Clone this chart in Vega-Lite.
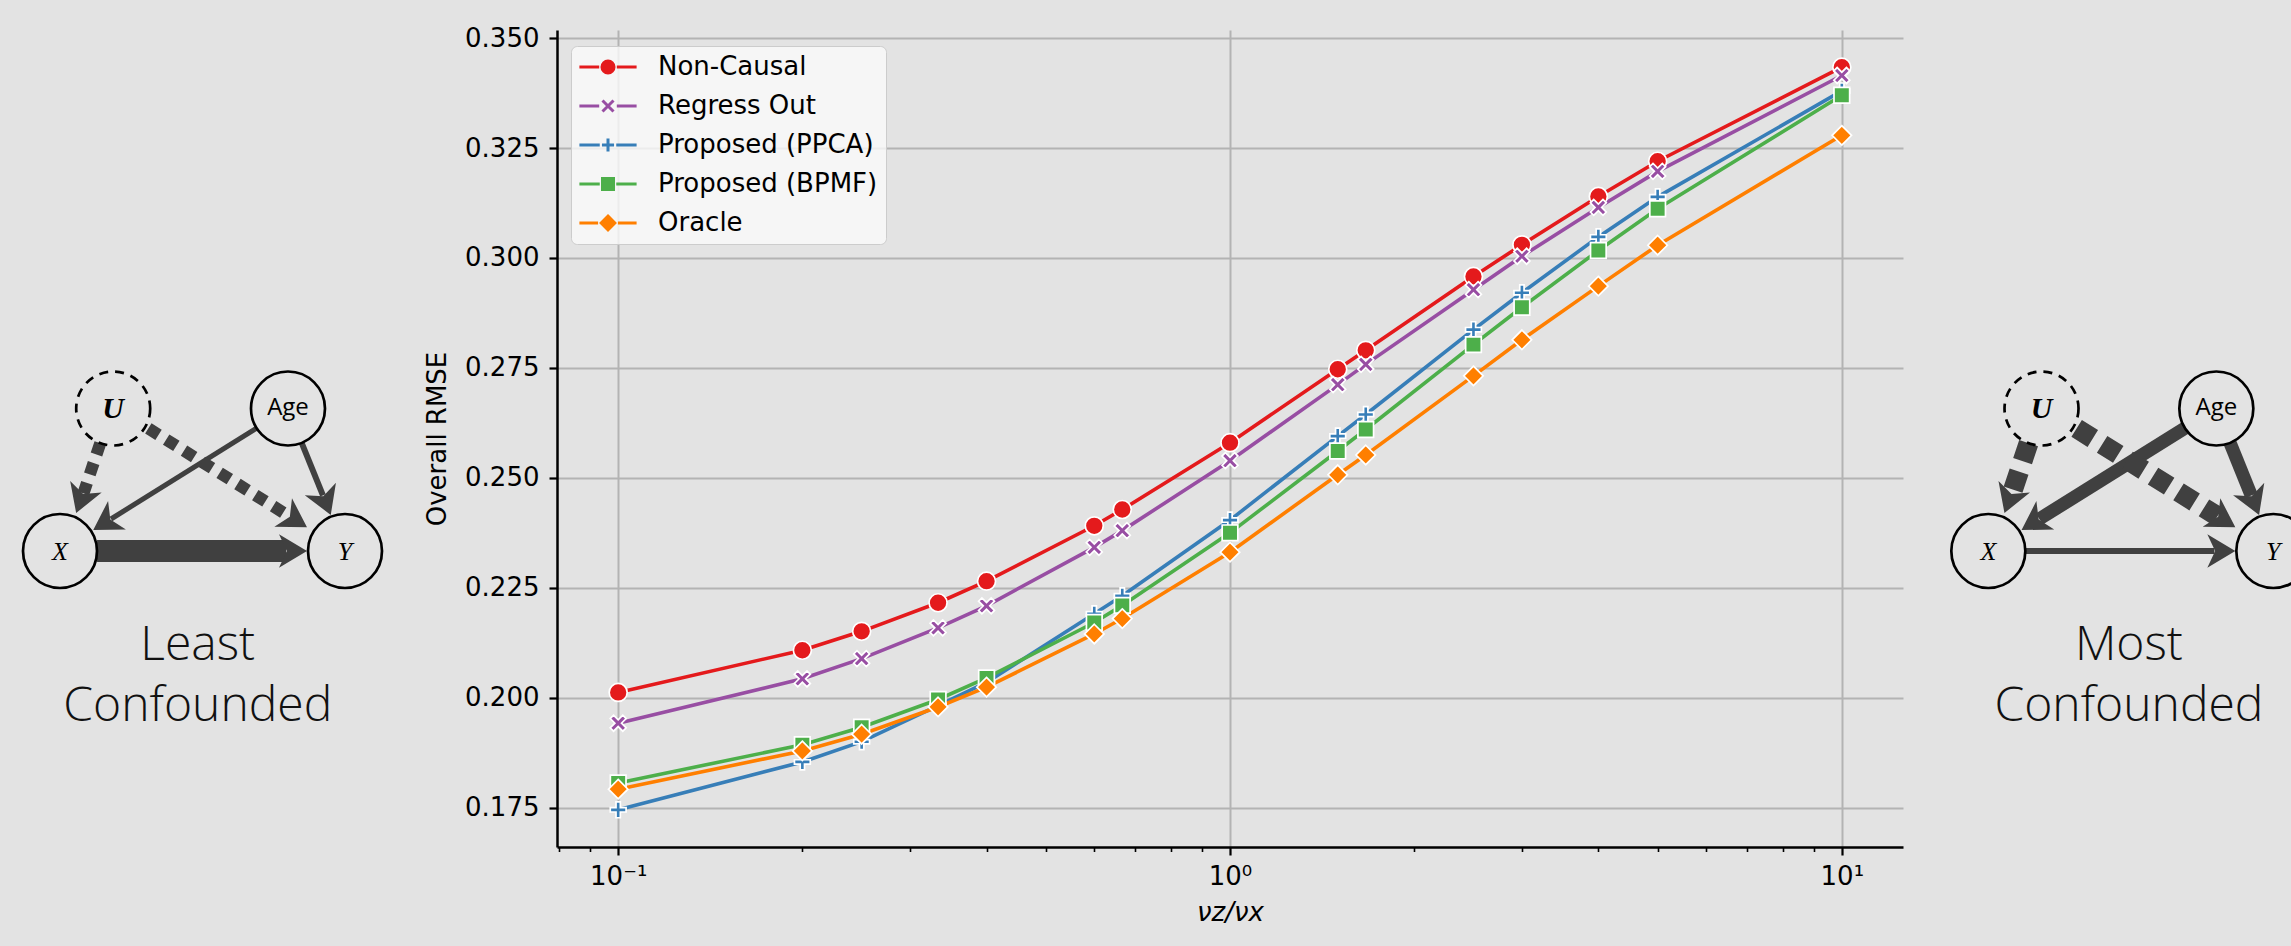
{
  "$schema": "https://vega.github.io/schema/vega-lite/v6.json",
  "background": "#e3e3e3",
  "padding": {"left": 0, "top": 25, "right": 0, "bottom": 40},
  "bounds": "flush",
  "spacing": 0,
  "config": {
    "view": {"stroke": null},
    "axis": {"labelFont": "DejaVu Sans", "titleFont": "DejaVu Sans", "labelFontSize": 26, "titleFontSize": 26, "titleFontWeight": "normal", "labelColor": "black", "titleColor": "black", "domainColor": "black", "tickColor": "black", "gridColor": "#b3b3b3"}
  },
  "datasets": {
    "main": [
      {"Method":"Non-Causal","ratio":0.1,"RMSE":0.2012},{"Method":"Non-Causal","ratio":0.2,"RMSE":0.2108},{"Method":"Non-Causal","ratio":0.25,"RMSE":0.2151},{"Method":"Non-Causal","ratio":0.3333,"RMSE":0.2216},{"Method":"Non-Causal","ratio":0.4,"RMSE":0.2265},{"Method":"Non-Causal","ratio":0.6,"RMSE":0.2391},{"Method":"Non-Causal","ratio":0.6667,"RMSE":0.2428},{"Method":"Non-Causal","ratio":1,"RMSE":0.258},{"Method":"Non-Causal","ratio":1.5,"RMSE":0.2747},{"Method":"Non-Causal","ratio":1.6667,"RMSE":0.279},{"Method":"Non-Causal","ratio":2.5,"RMSE":0.2958},{"Method":"Non-Causal","ratio":3,"RMSE":0.303},{"Method":"Non-Causal","ratio":4,"RMSE":0.314},{"Method":"Non-Causal","ratio":5,"RMSE":0.322},{"Method":"Non-Causal","ratio":10,"RMSE":0.3434},
      {"Method":"Regress Out","ratio":0.1,"RMSE":0.1942},{"Method":"Regress Out","ratio":0.2,"RMSE":0.2043},{"Method":"Regress Out","ratio":0.25,"RMSE":0.2089},{"Method":"Regress Out","ratio":0.3333,"RMSE":0.2159},{"Method":"Regress Out","ratio":0.4,"RMSE":0.2209},{"Method":"Regress Out","ratio":0.6,"RMSE":0.2342},{"Method":"Regress Out","ratio":0.6667,"RMSE":0.238},{"Method":"Regress Out","ratio":1,"RMSE":0.2539},{"Method":"Regress Out","ratio":1.5,"RMSE":0.2712},{"Method":"Regress Out","ratio":1.6667,"RMSE":0.2758},{"Method":"Regress Out","ratio":2.5,"RMSE":0.2928},{"Method":"Regress Out","ratio":3,"RMSE":0.3004},{"Method":"Regress Out","ratio":4,"RMSE":0.3115},{"Method":"Regress Out","ratio":5,"RMSE":0.3197},{"Method":"Regress Out","ratio":10,"RMSE":0.3415},
      {"Method":"Proposed (PPCA)","ratio":0.1,"RMSE":0.1745},{"Method":"Proposed (PPCA)","ratio":0.2,"RMSE":0.1854},{"Method":"Proposed (PPCA)","ratio":0.25,"RMSE":0.19},{"Method":"Proposed (PPCA)","ratio":0.3333,"RMSE":0.1982},{"Method":"Proposed (PPCA)","ratio":0.4,"RMSE":0.2035},{"Method":"Proposed (PPCA)","ratio":0.6,"RMSE":0.2191},{"Method":"Proposed (PPCA)","ratio":0.6667,"RMSE":0.2232},{"Method":"Proposed (PPCA)","ratio":1,"RMSE":0.2404},{"Method":"Proposed (PPCA)","ratio":1.5,"RMSE":0.2595},{"Method":"Proposed (PPCA)","ratio":1.6667,"RMSE":0.2644},{"Method":"Proposed (PPCA)","ratio":2.5,"RMSE":0.2837},{"Method":"Proposed (PPCA)","ratio":3,"RMSE":0.2921},{"Method":"Proposed (PPCA)","ratio":4,"RMSE":0.3048},{"Method":"Proposed (PPCA)","ratio":5,"RMSE":0.3139},{"Method":"Proposed (PPCA)","ratio":10,"RMSE":0.338},
      {"Method":"Proposed (BPMF)","ratio":0.1,"RMSE":0.1806},{"Method":"Proposed (BPMF)","ratio":0.2,"RMSE":0.1893},{"Method":"Proposed (BPMF)","ratio":0.25,"RMSE":0.1933},{"Method":"Proposed (BPMF)","ratio":0.3333,"RMSE":0.1996},{"Method":"Proposed (BPMF)","ratio":0.4,"RMSE":0.2045},{"Method":"Proposed (BPMF)","ratio":0.6,"RMSE":0.2171},{"Method":"Proposed (BPMF)","ratio":0.6667,"RMSE":0.221},{"Method":"Proposed (BPMF)","ratio":1,"RMSE":0.2375},{"Method":"Proposed (BPMF)","ratio":1.5,"RMSE":0.2561},{"Method":"Proposed (BPMF)","ratio":1.6667,"RMSE":0.261},{"Method":"Proposed (BPMF)","ratio":2.5,"RMSE":0.2803},{"Method":"Proposed (BPMF)","ratio":3,"RMSE":0.2888},{"Method":"Proposed (BPMF)","ratio":4,"RMSE":0.3017},{"Method":"Proposed (BPMF)","ratio":5,"RMSE":0.3112},{"Method":"Proposed (BPMF)","ratio":10,"RMSE":0.337},
      {"Method":"Oracle","ratio":0.1,"RMSE":0.1792},{"Method":"Oracle","ratio":0.2,"RMSE":0.1879},{"Method":"Oracle","ratio":0.25,"RMSE":0.1917},{"Method":"Oracle","ratio":0.3333,"RMSE":0.1979},{"Method":"Oracle","ratio":0.4,"RMSE":0.2024},{"Method":"Oracle","ratio":0.6,"RMSE":0.2145},{"Method":"Oracle","ratio":0.6667,"RMSE":0.218},{"Method":"Oracle","ratio":1,"RMSE":0.2331},{"Method":"Oracle","ratio":1.5,"RMSE":0.2507},{"Method":"Oracle","ratio":1.6667,"RMSE":0.2552},{"Method":"Oracle","ratio":2.5,"RMSE":0.2732},{"Method":"Oracle","ratio":3,"RMSE":0.2814},{"Method":"Oracle","ratio":4,"RMSE":0.2936},{"Method":"Oracle","ratio":5,"RMSE":0.3029},{"Method":"Oracle","ratio":10,"RMSE":0.3279}
    ],
    "edges": [
      {"panel":"least","edge":"X→Y","kind":"observed","strength":1.0,"x":0.39,"y":0,"ex":2.38,"ey":0,"tx":2.6,"ty":0},
      {"panel":"least","edge":"Age→X","kind":"observed","strength":0.23,"x":2.07,"y":1.294,"ex":0.537,"ey":0.337,"tx":0.35,"ty":0.22},
      {"panel":"least","edge":"Age→Y","kind":"observed","strength":0.27,"x":2.544,"y":1.139,"ex":2.768,"ey":0.585,"tx":2.85,"ty":0.38},
      {"panel":"least","edge":"U→X","kind":"latent","strength":0.55,"x":0.424,"y":1.136,"ex":0.247,"ey":0.607,"tx":0.17,"ty":0.4},
      {"panel":"least","edge":"U→Y","kind":"latent","strength":0.55,"x":0.93,"y":1.29,"ex":2.412,"ey":0.366,"tx":2.6,"ty":0.25},
      {"panel":"most","edge":"X→Y","kind":"observed","strength":0.27,"x":0.39,"y":0,"ex":2.38,"ey":0,"tx":2.6,"ty":0},
      {"panel":"most","edge":"Age→X","kind":"observed","strength":0.6,"x":2.07,"y":1.294,"ex":0.537,"ey":0.337,"tx":0.35,"ty":0.22},
      {"panel":"most","edge":"Age→Y","kind":"observed","strength":0.6,"x":2.544,"y":1.139,"ex":2.768,"ey":0.585,"tx":2.85,"ty":0.38},
      {"panel":"most","edge":"U→X","kind":"latent","strength":0.9,"x":0.424,"y":1.136,"ex":0.247,"ey":0.607,"tx":0.17,"ty":0.4},
      {"panel":"most","edge":"U→Y","kind":"latent","strength":0.9,"x":0.93,"y":1.29,"ex":2.412,"ey":0.366,"tx":2.6,"ty":0.25}
    ],
    "nodes": [
      {"node":"U","kind":"latent","x":0.56,"y":1.5},
      {"node":"Age","kind":"covariate","x":2.4,"y":1.5},
      {"node":"X","kind":"variable","x":0,"y":0},
      {"node":"Y","kind":"variable","x":3,"y":0}
    ],
    "captions": [
      {"panel":"least","text":"Least","x":1.45,"y":-1.15},
      {"panel":"least","text":"Confounded","x":1.45,"y":-1.79},
      {"panel":"most","text":"Most","x":1.48,"y":-1.15},
      {"panel":"most","text":"Confounded","x":1.48,"y":-1.79}
    ]
  },
  "hconcat": [
    {
      "width": 557, "height": 817,
      "layer": [
        {"data": {"name": "edges"}, "transform": [{"filter": "datum.panel == 'least' && datum.kind == 'observed'"}],
         "mark": {"type": "rule", "color": "#404040", "strokeCap": "butt"},
         "encoding": {
           "x": {"field": "x", "type": "quantitative", "scale": {"domain": [-0.6316, 5.2316], "nice": false, "zero": false}, "axis": null},
           "y": {"field": "y", "type": "quantitative", "scale": {"domain": [-3.1158, 5.4842], "nice": false, "zero": false}, "axis": null},
           "x2": {"field": "ex"}, "y2": {"field": "ey"},
           "strokeWidth": {"field": "strength", "type": "quantitative", "scale": {"domain": [0, 1], "range": [0, 22]}, "legend": null}}},
        {"data": {"name": "edges"}, "transform": [{"filter": "datum.panel == 'least' && datum.kind == 'latent'"}],
         "mark": {"type": "rule", "color": "#404040", "strokeCap": "butt", "strokeDash": [12, 9]},
         "encoding": {
           "x": {"field": "x", "type": "quantitative", "scale": {"domain": [-0.6316, 5.2316], "nice": false, "zero": false}, "axis": null},
           "y": {"field": "y", "type": "quantitative", "scale": {"domain": [-3.1158, 5.4842], "nice": false, "zero": false}, "axis": null},
           "x2": {"field": "ex"}, "y2": {"field": "ey"},
           "strokeWidth": {"field": "strength", "type": "quantitative", "scale": {"domain": [0, 1], "range": [0, 22]}, "legend": null}}},
        {"data": {"name": "edges"}, "transform": [{"filter": "datum.panel == 'least'"}, {"calculate": "atan2(datum.tx - datum.ex, datum.ty - datum.ey) * 180 / PI", "as": "dir"}],
         "mark": {"type": "point", "filled": true, "opacity": 1, "color": "#404040", "size": 3136, "shape": "M0,0L0.6,1L0,0.72L-0.6,1Z"},
         "encoding": {
           "x": {"field": "tx", "type": "quantitative", "scale": {"domain": [-0.6316, 5.2316], "nice": false, "zero": false}, "axis": null},
           "y": {"field": "ty", "type": "quantitative", "scale": {"domain": [-3.1158, 5.4842], "nice": false, "zero": false}, "axis": null},
           "angle": {"field": "dir", "type": "quantitative", "scale": null}}},
        {"data": {"name": "nodes"}, "transform": [{"filter": "datum.kind != 'latent'"}],
         "mark": {"type": "point", "filled": false, "color": "black", "opacity": 1, "size": 5476, "strokeWidth": 2.7, "shape": "circle"},
         "encoding": {
           "x": {"field": "x", "type": "quantitative", "scale": {"domain": [-0.6316, 5.2316], "nice": false, "zero": false}, "axis": null},
           "y": {"field": "y", "type": "quantitative", "scale": {"domain": [-3.1158, 5.4842], "nice": false, "zero": false}, "axis": null}}},
        {"data": {"name": "nodes"}, "transform": [{"filter": "datum.kind == 'latent'"}],
         "mark": {"type": "point", "filled": false, "color": "black", "opacity": 1, "size": 5476, "strokeWidth": 2.7, "strokeDash": [9, 7], "shape": "circle"},
         "encoding": {
           "x": {"field": "x", "type": "quantitative", "scale": {"domain": [-0.6316, 5.2316], "nice": false, "zero": false}, "axis": null},
           "y": {"field": "y", "type": "quantitative", "scale": {"domain": [-3.1158, 5.4842], "nice": false, "zero": false}, "axis": null}}},
        {"data": {"name": "nodes"}, "transform": [{"filter": "datum.kind == 'latent'"}],
         "mark": {"type": "text", "font": "Liberation Serif", "fontStyle": "italic", "fontWeight": "bold", "fontSize": 30, "baseline": "middle", "align": "center", "dy": 1},
         "encoding": {
           "x": {"field": "x", "type": "quantitative", "scale": {"domain": [-0.6316, 5.2316], "nice": false, "zero": false}, "axis": null},
           "y": {"field": "y", "type": "quantitative", "scale": {"domain": [-3.1158, 5.4842], "nice": false, "zero": false}, "axis": null},
           "text": {"field": "node"}}},
        {"data": {"name": "nodes"}, "transform": [{"filter": "datum.kind == 'covariate'"}],
         "mark": {"type": "text", "font": "Open Sans", "fontSize": 24, "baseline": "middle", "align": "center"},
         "encoding": {
           "x": {"field": "x", "type": "quantitative", "scale": {"domain": [-0.6316, 5.2316], "nice": false, "zero": false}, "axis": null},
           "y": {"field": "y", "type": "quantitative", "scale": {"domain": [-3.1158, 5.4842], "nice": false, "zero": false}, "axis": null},
           "text": {"field": "node"}}},
        {"data": {"name": "nodes"}, "transform": [{"filter": "datum.kind == 'variable'"}],
         "mark": {"type": "text", "font": "Liberation Serif", "fontStyle": "italic", "fontSize": 26, "baseline": "middle", "align": "center", "dy": 1},
         "encoding": {
           "x": {"field": "x", "type": "quantitative", "scale": {"domain": [-0.6316, 5.2316], "nice": false, "zero": false}, "axis": null},
           "y": {"field": "y", "type": "quantitative", "scale": {"domain": [-3.1158, 5.4842], "nice": false, "zero": false}, "axis": null},
           "text": {"field": "node"}}},
        {"data": {"name": "captions"}, "transform": [{"filter": "datum.panel == 'least'"}],
         "mark": {"type": "text", "font": "Open Sans", "fontWeight": 300, "fontSize": 48, "baseline": "alphabetic", "align": "center", "color": "#111111"},
         "encoding": {
           "x": {"field": "x", "type": "quantitative", "scale": {"domain": [-0.6316, 5.2316], "nice": false, "zero": false}, "axis": null},
           "y": {"field": "y", "type": "quantitative", "scale": {"domain": [-3.1158, 5.4842], "nice": false, "zero": false}, "axis": null},
           "text": {"field": "text"}}}
      ]
    },
    {
      "width": 1346, "height": 817,
      "data": {"name": "main"},
      "encoding": {
        "x": {"field": "ratio", "type": "quantitative", "title": "νz/νx",
              "scale": {"type": "log", "domain": [0.0794328, 12.589254], "nice": false},
              "axis": {"values": [0.08,0.09,0.1,0.2,0.3,0.4,0.5,0.6,0.7,0.8,0.9,1,2,3,4,5,6,7,8,9,10],
                       "labelExpr": "datum.value == 0.1 ? '10⁻¹' : datum.value == 1 ? '10⁰' : datum.value == 10 ? '10¹' : ''",
                       "labelOverlap": false, "labelFlush": false, "labelPadding": 8, "titlePadding": 10, "titleFontStyle": "italic",
                       "domainWidth": 2.5,
                       "tickSize": {"condition": {"test": "datum.value == 0.1 || datum.value == 1 || datum.value == 10", "value": 8}, "value": 4.5},
                       "tickWidth": {"condition": {"test": "datum.value == 0.1 || datum.value == 1 || datum.value == 10", "value": 2.2}, "value": 1.6},
                       "grid": true, "gridWidth": 2,
                       "gridOpacity": {"condition": {"test": "datum.value == 0.1 || datum.value == 1 || datum.value == 10", "value": 1}, "value": 0}}},
        "y": {"field": "RMSE", "type": "quantitative", "title": "Overall RMSE",
              "scale": {"domain": [0.16605, 0.35185], "zero": false, "nice": false},
              "axis": {"values": [0.175,0.2,0.225,0.25,0.275,0.3,0.325,0.35], "format": ".3f", "tickSize": 8, "tickWidth": 2.2, "domainWidth": 2.5, "grid": true, "gridWidth": 2, "labelPadding": 10, "titlePadding": 14}}
      },
      "layer": [
        {"mark": {"type": "line", "strokeWidth": 3.6},
         "encoding": {"color": {"field": "Method", "type": "nominal",
            "scale": {"domain": ["Non-Causal","Regress Out","Proposed (PPCA)","Proposed (BPMF)","Oracle"], "range": ["#e41a1c","#984ea3","#377eb8","#4daf4a","#ff7f00"]}, "legend": null}}},
        {"mark": {"type": "point", "filled": true, "opacity": 1, "size": 324, "stroke": "white", "strokeWidth": 1.7},
         "encoding": {
           "color": {"field": "Method", "type": "nominal",
             "scale": {"domain": ["Non-Causal","Regress Out","Proposed (PPCA)","Proposed (BPMF)","Oracle"], "range": ["#e41a1c","#984ea3","#377eb8","#4daf4a","#ff7f00"]}, "legend": null},
           "shape": {"field": "Method", "type": "nominal",
             "scale": {"domain": ["Non-Causal","Regress Out","Proposed (PPCA)","Proposed (BPMF)","Oracle"],
                       "range": ["circle",
                                 "M0.368,0L0.884,0.516L0.516,0.884L0,0.368L-0.516,0.884L-0.884,0.516L-0.368,0L-0.884,-0.516L-0.516,-0.884L0,-0.368L0.516,-0.884L0.884,-0.516Z",
                                 "M-0.24,-0.88H0.24V-0.24H0.88V0.24H0.24V0.88H-0.24V0.24H-0.88V-0.24H-0.24Z",
                                 "M-0.87,-0.87H0.87V0.87H-0.87Z",
                                 "M0,-1.08L1.08,0L0,1.08L-1.08,0Z"]}, "legend": null}}},
        {"mark": {"type": "point", "filled": true, "opacity": 0, "strokeWidth": 3},
         "encoding": {
           "color": {"field": "Method", "type": "nominal",
             "scale": {"domain": ["Non-Causal","Regress Out","Proposed (PPCA)","Proposed (BPMF)","Oracle"], "range": ["#e41a1c","#984ea3","#377eb8","#4daf4a","#ff7f00"]},
             "legend": {"title": null, "orient": "none", "legendX": 14, "legendY": 16, "padding": 8, "symbolSize": 484, "symbolStrokeWidth": 3, "symbolOpacity": 1, "symbolOffset": 16, "labelOffset": 37, "rowPadding": 13, "labelFont": "DejaVu Sans", "labelFontSize": 26, "labelColor": "black", "labelLimit": 500, "fillColor": "rgba(250,250,250,0.8)", "strokeColor": "#cccccc", "cornerRadius": 6}},
           "stroke": {"field": "Method", "type": "nominal",
             "scale": {"domain": ["Non-Causal","Regress Out","Proposed (PPCA)","Proposed (BPMF)","Oracle"], "range": ["#e41a1c","#984ea3","#377eb8","#4daf4a","#ff7f00"]},
             "legend": {"title": null, "orient": "none", "legendX": 14, "legendY": 16, "padding": 8, "symbolSize": 484, "symbolStrokeWidth": 3, "symbolOpacity": 1, "symbolOffset": 16, "labelOffset": 37, "rowPadding": 13, "labelFont": "DejaVu Sans", "labelFontSize": 26, "labelColor": "black", "labelLimit": 500, "fillColor": "rgba(250,250,250,0.8)", "strokeColor": "#cccccc", "cornerRadius": 6}},
           "shape": {"field": "Method", "type": "nominal",
             "scale": {"domain": ["Non-Causal","Regress Out","Proposed (PPCA)","Proposed (BPMF)","Oracle"],
                       "range": ["M-2.6,0H-0.8M0.8,0H2.6M0.55,0A0.55,0.55,0,1,1,-0.55,0A0.55,0.55,0,1,1,0.55,0Z",
                                 "M-2.6,0H-0.8M0.8,0H2.6M-0.5,-0.5L0.5,0.5M-0.5,0.5L0.5,-0.5",
                                 "M-2.6,0H-0.75M0.75,0H2.6M-0.55,0H0.55M0,-0.6V0.6",
                                 "M-2.6,0H-0.75M0.75,0H2.6M-0.5,-0.5H0.5V0.5H-0.5Z",
                                 "M-2.6,0H-0.9M0.9,0H2.6M0,-0.62L0.62,0L0,0.62L-0.62,0Z"]},
             "legend": {"title": null, "orient": "none", "legendX": 14, "legendY": 16, "padding": 8, "symbolSize": 484, "symbolStrokeWidth": 3, "symbolOpacity": 1, "symbolOffset": 16, "labelOffset": 37, "rowPadding": 13, "labelFont": "DejaVu Sans", "labelFontSize": 26, "labelColor": "black", "labelLimit": 500, "fillColor": "rgba(250,250,250,0.8)", "strokeColor": "#cccccc", "cornerRadius": 6}}}}
      ],
      "resolve": {"scale": {"color": "independent", "shape": "independent", "stroke": "independent"}, "legend": {"color": "independent", "shape": "independent", "stroke": "independent"}}
    },
    {
      "width": 388, "height": 817,
      "layer": [
        {"data": {"name": "edges"}, "transform": [{"filter": "datum.panel == 'most' && datum.kind == 'observed'"}],
         "mark": {"type": "rule", "color": "#404040", "strokeCap": "butt"},
         "encoding": {
           "x": {"field": "x", "type": "quantitative", "scale": {"domain": [-0.898, 3.186], "nice": false, "zero": false}, "axis": null},
           "y": {"field": "y", "type": "quantitative", "scale": {"domain": [-3.1158, 5.4842], "nice": false, "zero": false}, "axis": null},
           "x2": {"field": "ex"}, "y2": {"field": "ey"},
           "strokeWidth": {"field": "strength", "type": "quantitative", "scale": {"domain": [0, 1], "range": [0, 22]}, "legend": null}}},
        {"data": {"name": "edges"}, "transform": [{"filter": "datum.panel == 'most' && datum.kind == 'latent'"}],
         "mark": {"type": "rule", "color": "#404040", "strokeCap": "butt", "strokeDash": [19, 11]},
         "encoding": {
           "x": {"field": "x", "type": "quantitative", "scale": {"domain": [-0.898, 3.186], "nice": false, "zero": false}, "axis": null},
           "y": {"field": "y", "type": "quantitative", "scale": {"domain": [-3.1158, 5.4842], "nice": false, "zero": false}, "axis": null},
           "x2": {"field": "ex"}, "y2": {"field": "ey"},
           "strokeWidth": {"field": "strength", "type": "quantitative", "scale": {"domain": [0, 1], "range": [0, 22]}, "legend": null}}},
        {"data": {"name": "edges"}, "transform": [{"filter": "datum.panel == 'most'"}, {"calculate": "atan2(datum.tx - datum.ex, datum.ty - datum.ey) * 180 / PI", "as": "dir"}],
         "mark": {"type": "point", "filled": true, "opacity": 1, "color": "#404040", "size": 3136, "shape": "M0,0L0.6,1L0,0.72L-0.6,1Z"},
         "encoding": {
           "x": {"field": "tx", "type": "quantitative", "scale": {"domain": [-0.898, 3.186], "nice": false, "zero": false}, "axis": null},
           "y": {"field": "ty", "type": "quantitative", "scale": {"domain": [-3.1158, 5.4842], "nice": false, "zero": false}, "axis": null},
           "angle": {"field": "dir", "type": "quantitative", "scale": null}}},
        {"data": {"name": "nodes"}, "transform": [{"filter": "datum.kind != 'latent'"}],
         "mark": {"type": "point", "filled": false, "color": "black", "opacity": 1, "size": 5476, "strokeWidth": 2.7, "shape": "circle"},
         "encoding": {
           "x": {"field": "x", "type": "quantitative", "scale": {"domain": [-0.898, 3.186], "nice": false, "zero": false}, "axis": null},
           "y": {"field": "y", "type": "quantitative", "scale": {"domain": [-3.1158, 5.4842], "nice": false, "zero": false}, "axis": null}}},
        {"data": {"name": "nodes"}, "transform": [{"filter": "datum.kind == 'latent'"}],
         "mark": {"type": "point", "filled": false, "color": "black", "opacity": 1, "size": 5476, "strokeWidth": 2.7, "strokeDash": [9, 7], "shape": "circle"},
         "encoding": {
           "x": {"field": "x", "type": "quantitative", "scale": {"domain": [-0.898, 3.186], "nice": false, "zero": false}, "axis": null},
           "y": {"field": "y", "type": "quantitative", "scale": {"domain": [-3.1158, 5.4842], "nice": false, "zero": false}, "axis": null}}},
        {"data": {"name": "nodes"}, "transform": [{"filter": "datum.kind == 'latent'"}],
         "mark": {"type": "text", "font": "Liberation Serif", "fontStyle": "italic", "fontWeight": "bold", "fontSize": 30, "baseline": "middle", "align": "center", "dy": 1},
         "encoding": {
           "x": {"field": "x", "type": "quantitative", "scale": {"domain": [-0.898, 3.186], "nice": false, "zero": false}, "axis": null},
           "y": {"field": "y", "type": "quantitative", "scale": {"domain": [-3.1158, 5.4842], "nice": false, "zero": false}, "axis": null},
           "text": {"field": "node"}}},
        {"data": {"name": "nodes"}, "transform": [{"filter": "datum.kind == 'covariate'"}],
         "mark": {"type": "text", "font": "Open Sans", "fontSize": 24, "baseline": "middle", "align": "center"},
         "encoding": {
           "x": {"field": "x", "type": "quantitative", "scale": {"domain": [-0.898, 3.186], "nice": false, "zero": false}, "axis": null},
           "y": {"field": "y", "type": "quantitative", "scale": {"domain": [-3.1158, 5.4842], "nice": false, "zero": false}, "axis": null},
           "text": {"field": "node"}}},
        {"data": {"name": "nodes"}, "transform": [{"filter": "datum.kind == 'variable'"}],
         "mark": {"type": "text", "font": "Liberation Serif", "fontStyle": "italic", "fontSize": 26, "baseline": "middle", "align": "center", "dy": 1},
         "encoding": {
           "x": {"field": "x", "type": "quantitative", "scale": {"domain": [-0.898, 3.186], "nice": false, "zero": false}, "axis": null},
           "y": {"field": "y", "type": "quantitative", "scale": {"domain": [-3.1158, 5.4842], "nice": false, "zero": false}, "axis": null},
           "text": {"field": "node"}}},
        {"data": {"name": "captions"}, "transform": [{"filter": "datum.panel == 'most'"}],
         "mark": {"type": "text", "font": "Open Sans", "fontWeight": 300, "fontSize": 48, "baseline": "alphabetic", "align": "center", "color": "#111111"},
         "encoding": {
           "x": {"field": "x", "type": "quantitative", "scale": {"domain": [-0.898, 3.186], "nice": false, "zero": false}, "axis": null},
           "y": {"field": "y", "type": "quantitative", "scale": {"domain": [-3.1158, 5.4842], "nice": false, "zero": false}, "axis": null},
           "text": {"field": "text"}}}
      ]
    }
  ]
}
